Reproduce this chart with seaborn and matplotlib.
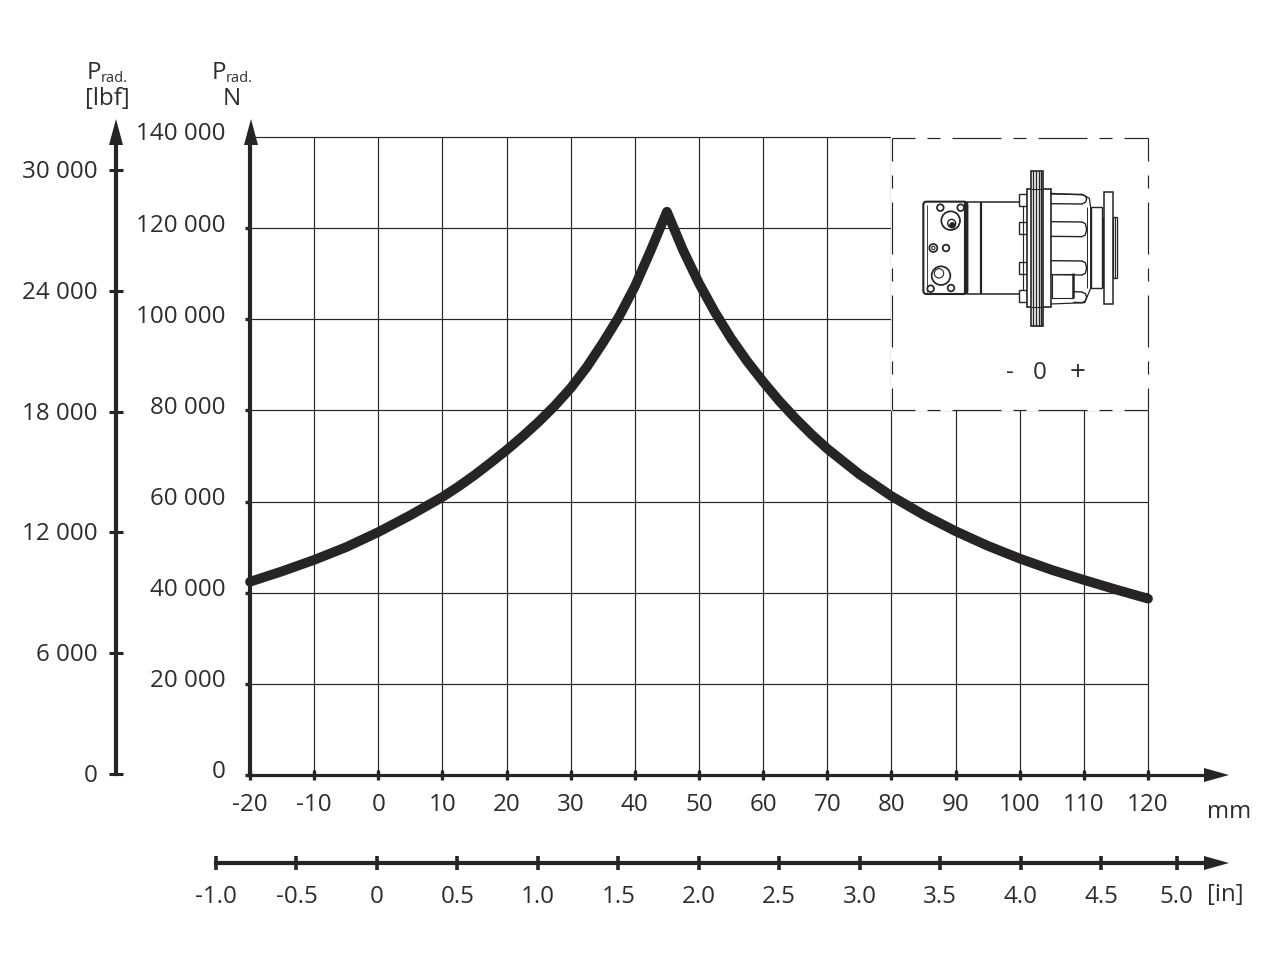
import matplotlib
matplotlib.use("Agg")
import matplotlib.pyplot as plt
import numpy as np
import pandas as pd
import seaborn as sns
from matplotlib.patches import Polygon, Rectangle, Circle, FancyBboxPatch
from matplotlib.transforms import ScaledTranslation

# ---------- data ----------
stroke_mm = [-20, -15, -10, -5, 0, 5, 10, 12.5, 15, 17.5, 20, 22.5, 25, 27.5, 30, 32.5, 35, 37.5,
             40, 42.5, 45,
             47.5, 50, 52.5, 55, 57.5, 60, 62.5, 65, 67.5, 70, 75, 80, 85, 90, 95, 100, 105, 110,
             115, 120]
load_n = [42400, 44700, 47200, 50000, 53300, 57000, 61000, 63300, 65800, 68500, 71300, 74300,
          77500, 81000, 84900, 89500, 94800, 100500,
          107200, 115200, 123600,
          115200, 107900, 101500, 95800, 90800, 86300, 82100, 78300, 74800, 71600, 66000, 61200,
          57100, 53500, 50300, 47500, 45000, 42800, 40700, 38700]

mm_ticks = [-20, -10, 0, 10, 20, 30, 40, 50, 60, 70, 80, 90, 100, 110, 120]
mm_labels = ["-20", "-10", "0", "10", "20", "30", "40", "50", "60", "70", "80", "90", "100", "110", "120"]
n_ticks = [0, 20000, 40000, 60000, 80000, 100000, 120000, 140000]
n_labels = ["0", "20 000", "40 000", "60 000", "80 000", "100 000", "120 000", "140 000"]
lbf_ticks = [0, 6000, 12000, 18000, 24000, 30000]
lbf_labels = ["0", "6 000", "12 000", "18 000", "24 000", "30 000"]
# the "5.0" tick sits slightly short of its true place in the reference
in_ticks = [-1.0, -0.5, 0, 0.5, 1.0, 1.5, 2.0, 2.5, 3.0, 3.5, 4.0, 4.5, 4.97]
in_labels = ["-1.0", "-0.5", "0", "0.5", "1.0", "1.5", "2.0", "2.5", "3.0", "3.5", "4.0", "4.5", "5.0"]

INK = "#262425"
TXT = "#2e2c2d"
W, H = 1280, 961
FS = 17.4

sns.set_theme(style="white")
plt.rcParams["font.family"] = ["Open Sans", "DejaVu Sans"]
plt.rcParams["lines.scale_dashes"] = False
plt.rcParams["text.color"] = TXT
plt.rcParams["xtick.color"] = INK
plt.rcParams["ytick.color"] = INK

fig = plt.figure(figsize=(12.8, 9.61), dpi=100, facecolor="white")


def box(left, top, right, bottom):
    return [left / W, 1 - bottom / H, (right - left) / W, (bottom - top) / H]


def shift(labels, dx_px=0, dy_px=0):
    off = ScaledTranslation(dx_px / 100, dy_px / 100, fig.dpi_scale_trans)
    for lab in labels:
        lab.set_transform(lab.get_transform() + off)


# ---------- main chart ----------
ax = fig.add_axes(box(250, 137, 1148, 775))
df = pd.DataFrame({"stroke": stroke_mm, "load": load_n})
sns.lineplot(data=df, x="stroke", y="load", ax=ax, estimator=None, sort=False,
             color=INK, linewidth=7.0, solid_capstyle="round", solid_joinstyle="round",
             zorder=5, clip_on=False)
ax.set_xlim(-20, 120)
ax.set_ylim(0, 140000)
ax.set_xticks(mm_ticks, mm_labels, fontsize=FS, color=TXT)
ax.set_yticks(n_ticks, n_labels, fontsize=FS, color=TXT)
ax.set_xlabel("")
ax.set_ylabel("")
ax.grid(True, color=INK, linewidth=0.85)
for gl in ax.get_xgridlines() + ax.get_ygridlines():
    gl.set_clip_on(False)
for s in ("top", "right"):
    ax.spines[s].set_visible(False)
ax.spines["left"].set_linewidth(3.0)
ax.spines["left"].set_color(INK)
ax.spines["bottom"].set_linewidth(2.3)
ax.spines["bottom"].set_color(INK)
ax.spines["left"].set_zorder(6)
ax.spines["bottom"].set_zorder(6)
ax.tick_params(axis="x", direction="inout", length=7, width=2.4, pad=9.5, bottom=True)
ax.tick_params(axis="y", direction="out", length=3.5, width=2.4, pad=14.3, left=True)
ax.yaxis.get_major_ticks()[-1].tick1line.set_visible(False)
shift(ax.get_yticklabels(), 0, 5.5)

# ---------- lbf axis ----------
ax_l = fig.add_axes(box(116, 145, 150, 774))
ax_l.patch.set_visible(False)
ax_l.set_ylim(0, (774 - 145) / 604 * 30000)
ax_l.set_xticks([])
ax_l.set_yticks(lbf_ticks, lbf_labels, fontsize=FS, color=TXT)
for s in ("top", "right", "bottom"):
    ax_l.spines[s].set_visible(False)
ax_l.spines["left"].set_linewidth(3.0)
ax_l.spines["left"].set_color(INK)
ax_l.tick_params(axis="y", direction="inout", length=10, width=2.2, pad=8.4, left=True)
shift(ax_l.get_yticklabels(), 0, 1)

# ---------- inch axis ----------
ax_i = fig.add_axes(box(216, 840, 1204, 863))
ax_i.patch.set_visible(False)
ax_i.set_xlim(-1.0, (1204 - 216) / 160.9 - 1.0)
ax_i.set_yticks([])
ax_i.set_xticks(in_ticks, in_labels, fontsize=FS, color=TXT)
for s in ("top", "right", "left"):
    ax_i.spines[s].set_visible(False)
ax_i.spines["bottom"].set_linewidth(3.0)
ax_i.spines["bottom"].set_color(INK)
ax_i.tick_params(axis="x", direction="inout", length=10, width=2.6, pad=11, bottom=True)

# ---------- overlay in pixel units: arrows, captions ----------
ov = fig.add_axes([0, 0, 1, 1], zorder=10)
ov.set_xlim(0, W)
ov.set_ylim(H, 0)
ov.axis("off")
ov.plot([1148, 1206], [775, 775], color=INK, lw=2.3, solid_capstyle="butt")
for pts in ([(116, 119), (109, 145), (123, 145)],
            [(251, 119), (244, 145), (258, 145)],
            [(1229, 775), (1204, 768), (1204, 782)],
            [(1229, 863), (1204, 856), (1204, 870)]):
    ov.add_patch(Polygon(pts, closed=True, color=INK, lw=0))

ov.text(1229, 812, "mm", fontsize=FS, ha="center", va="center")
ov.text(1225, 895, "[in]", fontsize=FS, ha="center", va="center")
for x_p, x_sub, under, x_u in ((87, 101, "[lbf]", 107), (212, 226, "N", 232)):
    ov.text(x_p, 73, "P", fontsize=FS, ha="left", va="center")
    ov.text(x_sub, 79, "rad.", fontsize=10.5, ha="left", va="center")
    ov.text(x_u, 99, under, fontsize=FS, ha="center", va="center")

# ---------- inset: white panel with dash-dot frame ----------
ov.add_patch(Rectangle((890.5, 135), 259.5, 276, fc="white", ec="none", zorder=1))


def frame(xs, ys, period_long, period_gap, period_short, start):
    pat = tuple(v * 0.72 for v in (period_long, period_gap, period_short, period_gap))
    ov.plot(xs, ys, color=INK, lw=0.85, zorder=2, solid_capstyle="butt",
            dash_capstyle="butt", linestyle=(start * 0.72, pat))


frame([891.5, 1147.5], [137.5, 137.5], 49, 12, 13, 26)
frame([891.5, 1147.5], [410, 410], 49, 12, 13, 26)
frame([891.5, 891.5], [137.5, 410], 52, 14, 13, 29)
frame([1147.5, 1147.5], [137.5, 410], 52, 14, 13, 29)

ov.text(1010, 373, "-", fontsize=FS, ha="center", va="center")
ov.text(1040, 373, "0", fontsize=FS, ha="center", va="center")
ov.text(1078, 373, "+", fontsize=20, ha="center", va="center")

# ---------- inset: motor sketch, in units of the 3x crop ----------
mo = fig.add_axes(box(880, 130, 1152, 420), zorder=11)
mo.set_xlim(0, 816)
mo.set_ylim(870, 0)
mo.axis("off")
LW = 0.9


def rect(x0, y0, x1, y1, lw=LW, fc="white", z=3):
    mo.add_patch(Rectangle((x0, y0), x1 - x0, y1 - y0, fc=fc, ec=INK, lw=lw, zorder=z))


def line(xs, ys, lw=LW, z=4):
    mo.plot(xs, ys, color=INK, lw=lw, zorder=z, solid_capstyle="butt")


def ring(x, y, r, lw=LW * 1.4, fc="white", z=6):
    mo.add_patch(Circle((x, y), r, fc=fc, ec=INK, lw=lw, zorder=z))


# valve block
mo.add_patch(FancyBboxPatch((136, 221), 120, 265, boxstyle="round,pad=6,rounding_size=10",
                            fc="white", ec=INK, lw=1.5, zorder=5))
line([141, 141], [225, 485], lw=0.6, z=6)
line([257, 257], [217, 491], lw=3.0, z=6)
for (cx, cy, r) in ((181, 233, 10), (242, 233, 10), (152, 476, 10), (213, 474, 10), (198, 354, 10)):
    ring(cx, cy, r)
ring(212, 272, 28)
ring(215, 280, 12, lw=1.0)
ring(217, 286, 7, fc=INK, z=7)
ring(183, 437, 28)
ring(177, 430, 14, lw=0.8, z=7)
ring(160, 354, 12)
ring(160, 354, 5, lw=0.8, z=7)
# body
line([262, 418], [217, 217], lw=1.1)
line([262, 418], [491, 491], lw=1.1)
line([302, 302], [217, 491], lw=1.6)
# lugs
for y0, y1 in ((193, 227), (277, 313), (397, 433), (481, 517)):
    rect(418, y0, 440, y1, lw=1.0)
line([430, 430], [227, 481], lw=0.8)
# flange and disc
rect(440, 178, 512, 530, lw=1.2)
rect(453, 122, 490, 588, lw=1.2, z=4)
for xv in (460, 468, 476, 483):
    line([xv, xv], [122, 588], lw=1.0, z=5)
for yh in (178, 530):
    line([453, 490], [yh, yh], lw=0.8, z=5)
# housing with pistons
mo.plot([512, 610, 628, 632, 632, 614, 512], [190, 195, 205, 232, 475, 518, 522],
        color=INK, lw=0.9, zorder=3)
for y0, y1 in ((192, 222), (275, 320), (392, 435), (485, 518)):
    x0 = 580 if y0 == 485 else 512
    line([x0, 606], [y0, y0 + 1], lw=1.0)
    line([x0, 606], [y1 - 1, y1], lw=1.0)
    mo.plot([606, 616, 620, 616, 606], [y0 + 1, y0 + 6, (y0 + y1) / 2, y1 - 5, y1],
            color=INK, lw=1.0, zorder=4)
line([620, 620], [232, 475], lw=0.7)
rect(517, 432, 580, 505, lw=0.8, z=3)
line([578, 578], [430, 505], lw=1.8)
# shaft end and plate
rect(632, 232, 665, 475, lw=1.0)
rect(665, 260, 672, 470, lw=0.5, fc=INK)
rect(673, 187, 698, 523, lw=1.1)
rect(698, 262, 712, 445, lw=1.0)
line([704, 704], [262, 445], lw=0.7)

fig.savefig("out.png", dpi=100, facecolor="white")
